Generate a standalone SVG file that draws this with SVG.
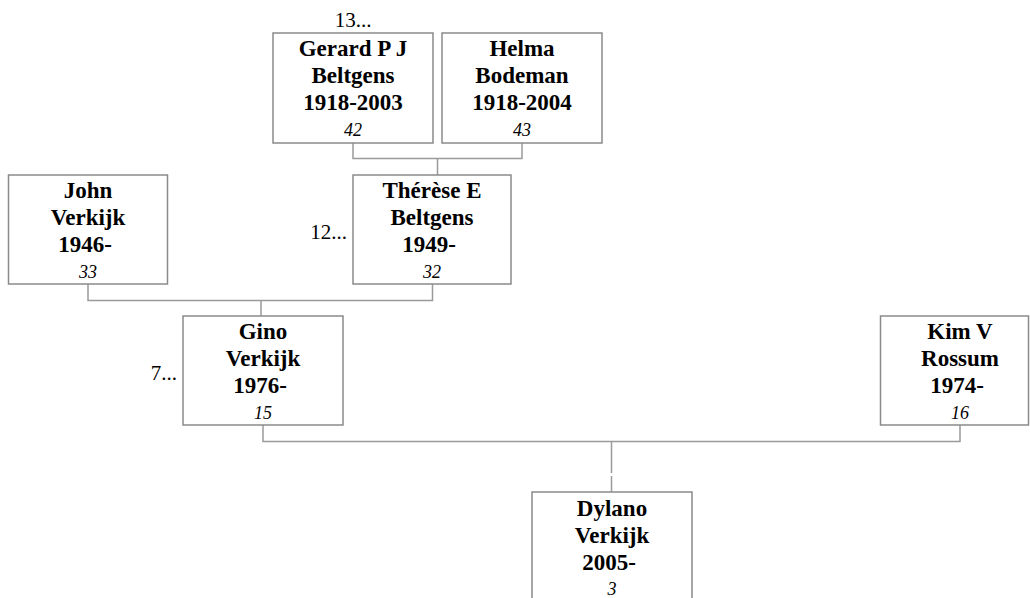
<svg xmlns="http://www.w3.org/2000/svg" width="1030" height="598" viewBox="0 0 1030 598">
<style>
.box{fill:#fff;stroke:#8a8a8a;stroke-width:1.5}
.name{font-family:"Liberation Serif","Times New Roman",serif;font-weight:bold;font-size:23px;text-anchor:middle;fill:#000}
.num{font-family:"Liberation Serif","Times New Roman",serif;font-style:italic;font-size:18px;text-anchor:middle;fill:#000}
.more{font-family:"Liberation Serif","Times New Roman",serif;font-size:21px;fill:#000}
.con{fill:none;stroke:#9a9a9a;stroke-width:1.5}
</style>
<rect width="1030" height="598" fill="#fff"/>
<g id="connectors">
<path class="con" d="M353 143V158.5H522V143M437.5 158.5V175"/>
<path class="con" d="M88 284V300.5H432.5V284M261 300.5V316"/>
<path class="con" d="M263 425V441.5H960V425M611.5 441.5V473M611.5 476V492"/>
</g>
<g id="gerard">
<text class="more" x="353" y="27" text-anchor="middle">13...</text>
<rect class="box" x="273" y="33" width="160" height="110"/>
<text class="name" x="353" y="56">Gerard P J</text>
<text class="name" x="353" y="83">Beltgens</text>
<text class="name" x="353" y="110">1918-2003</text>
<text class="num" x="353" y="136">42</text>
</g>
<g id="helma">
<rect class="box" x="442" y="33" width="160" height="110"/>
<text class="name" x="522" y="56">Helma</text>
<text class="name" x="522" y="83">Bodeman</text>
<text class="name" x="522" y="110">1918-2004</text>
<text class="num" x="522" y="136">43</text>
</g>
<g id="john">
<rect class="box" x="8.5" y="175" width="159" height="109"/>
<text class="name" x="88" y="198">John</text>
<text class="name" x="88" y="225">Verkijk</text>
<text class="name" x="85" y="252">1946-</text>
<text class="num" x="88" y="278">33</text>
</g>
<g id="therese">
<text class="more" x="347" y="239" text-anchor="end">12...</text>
<rect class="box" x="353" y="175" width="158" height="109"/>
<text class="name" x="432" y="198">Thérèse E</text>
<text class="name" x="432" y="225">Beltgens</text>
<text class="name" x="429" y="252">1949-</text>
<text class="num" x="432" y="278">32</text>
</g>
<g id="gino">
<text class="more" x="177" y="380" text-anchor="end">7...</text>
<rect class="box" x="183" y="316" width="160" height="109"/>
<text class="name" x="263" y="339">Gino</text>
<text class="name" x="263" y="366">Verkijk</text>
<text class="name" x="260" y="393">1976-</text>
<text class="num" x="263" y="419">15</text>
</g>
<g id="kim">
<rect class="box" x="880.5" y="316" width="148" height="109"/>
<text class="name" x="960" y="339">Kim V</text>
<text class="name" x="960" y="366">Rossum</text>
<text class="name" x="957" y="393">1974-</text>
<text class="num" x="960" y="419">16</text>
</g>
<g id="dylano">
<rect class="box" x="532" y="492" width="160" height="110"/>
<text class="name" x="612" y="516">Dylano</text>
<text class="name" x="612" y="543">Verkijk</text>
<text class="name" x="609" y="570">2005-</text>
<text class="num" x="612" y="595">3</text>
</g>
</svg>
